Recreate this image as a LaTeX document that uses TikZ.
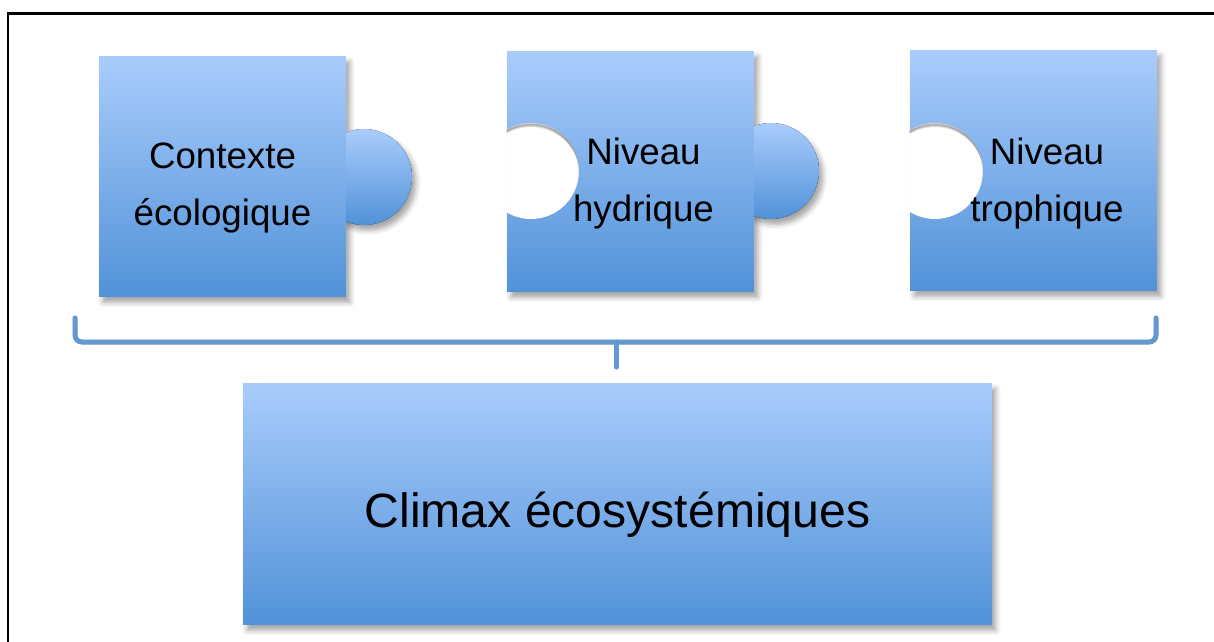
\documentclass[tikz,border=0pt]{standalone}
\usepackage{fontspec}
\setmainfont{Liberation Sans}
\usetikzlibrary{shadows.blur}

\definecolor{pieceTop}{RGB}{170,204,252}
\definecolor{pieceBot}{RGB}{81,146,216}
\definecolor{braceCol}{RGB}{99,153,207}

\begin{document}
\begin{tikzpicture}[x=0.02cm,y=-0.02cm,
  piece/.style={top color=pieceTop, bottom color=pieceBot, draw=none, inner sep=0pt,
    blur shadow={shadow xshift=0.08cm, shadow yshift=-0.11cm, shadow blur radius=0.1cm, shadow opacity=35}},
  box/.style={piece, minimum width=4.94cm, minimum height=4.82cm},
  word/.style={font=\fontsize{20.9}{32}\selectfont, align=center, inner sep=0pt, anchor=north},
  dent/.style={black, opacity=.07, line width=0.05cm},
  brace/.style={draw=braceCol, line width=0.1cm, rounded corners=0.14cm, line cap=round}]
\useasboundingbox (0,0) rectangle (1214,642);
\draw[line width=0.06cm] (8,642) -- (8,14) -- (1214,14);

\node[box] (ctx) at (222.5,176.5) {};
\node[box] (hyd) at (630.5,171.5) {};
\node[box] (tro) at (1033.5,170.5) {};
\node[box, minimum width=14.98cm, minimum height=4.84cm] (clim) at (617.5,504) {};

\begin{scope}
\clip (ctx.north east) rectangle ++(100,300);
\fill[piece] (364,177) circle[radius=48];
\end{scope}
\begin{scope}
\clip (hyd.north east) rectangle ++(100,300);
\fill[piece] (771,171) circle[radius=48];
\end{scope}

\begin{scope}
\clip (hyd.north west) rectangle (hyd.south east);
\fill[white] (531,171) circle[radius=48];
\clip (531,171) circle[radius=48];
\foreach \d in {1,...,6}
  \draw[dent] (531,171+\d) circle[radius=48+\d/2];
\end{scope}
\begin{scope}
\clip (tro.north west) rectangle (tro.south east);
\fill[white] (935,171) circle[radius=48];
\clip (935,171) circle[radius=48];
\foreach \d in {1,...,6}
  \draw[dent] (935,171+\d) circle[radius=48+\d/2];
\end{scope}

\node[word] (ctxt) at (222.5,143) {Contexte\\écologique};
\node[word] (hydt) at (643.5,138) {Niveau\\hydrique};
\node[word] (trot) at (1047,138) {Niveau\\trophique};
\node[font=\fontsize{27.4}{33}\selectfont, inner sep=0pt, anchor=base] (climt) at (617.5,527) {Climax écosystémiques};

\coordinate (bl) at (75,318);
\coordinate (br) at (1156,318);
\coordinate (bm) at (616,342);
\coordinate (bt) at (616,367);
\begin{scope}[shift={(2,4)}]
\draw[brace, draw=black, opacity=.12] (bl) |- (bm) -| (br);
\draw[brace, draw=black, opacity=.12] (bm) -- (bt);
\end{scope}
\draw[brace] (bl) |- (bm) -| (br);
\draw[brace] (bm) -- (bt);
\end{tikzpicture}
\end{document}
